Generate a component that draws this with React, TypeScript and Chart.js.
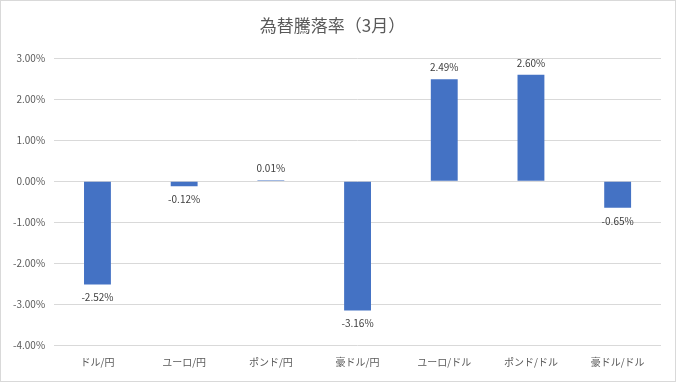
import React, { useEffect, useRef } from "react";
import { Chart, registerables } from "chart.js";

Chart.register(...registerables);

const title = "為替騰落率（3月）";
const categories = ["ドル/円", "ユーロ/円", "ポンド/円", "豪ドル/円", "ユーロ/ドル", "ポンド/ドル", "豪ドル/ドル"];
const values = [-2.52, -0.12, 0.01, -3.16, 2.49, 2.6, -0.65];
const yMin = -4;
const yMax = 3;
const yStep = 1;

const FONT = "'Noto Sans CJK JP', 'Noto Sans', sans-serif";

const labelPlugin = {
  id: "barLabels",
  afterDatasetsDraw(chart: any) {
    const ctx = chart.ctx;
    const meta = chart.getDatasetMeta(0);
    ctx.save();
    ctx.font = `10px ${FONT}`;
    ctx.fillStyle = "#404040";
    ctx.textAlign = "center";
    meta.data.forEach((bar: any, i: number) => {
      const v = values[i];
      const text = v.toFixed(2) + "%";
      if (v >= 0) {
        ctx.textBaseline = "bottom";
        ctx.fillText(text, bar.x, bar.y - 7);
      } else {
        ctx.textBaseline = "top";
        ctx.fillText(text, bar.x, bar.y + 8);
      }
    });
    ctx.restore();
  },
};

export default function App() {
  const ref = useRef<HTMLCanvasElement>(null);
  useEffect(() => {
    if (!ref.current) return;
    const chart = new Chart(ref.current, {
      type: "bar",
      data: {
        labels: categories,
        datasets: [
          {
            data: values,
            backgroundColor: "#4472C4",
            categoryPercentage: 1,
            barPercentage: 0.31,
            minBarLength: 1,
          },
        ],
      },
      options: {
        animation: false,
        responsive: false,
        maintainAspectRatio: false,
        layout: { padding: { left: 3, right: 14, top: 4, bottom: 10 } },
        plugins: {
          legend: { display: false },
          tooltip: { enabled: false },
          title: {
            display: true,
            text: title,
            color: "#595959",
            font: { family: FONT, size: 17, weight: "normal" },
            padding: { top: 10, bottom: 23 },
          },
        },
        scales: {
          x: {
            grid: { display: false },
            border: { display: false },
            ticks: { color: "#595959", font: { family: FONT, size: 10 }, padding: 3, maxRotation: 0 },
          },
          y: {
            min: yMin,
            max: yMax,
            grid: { color: "#d9d9d9", drawTicks: false },
            border: { display: false },
            ticks: {
              stepSize: yStep,
              color: "#595959",
              font: { family: FONT, size: 10 },
              padding: 9,
              callback: (v: any) => Number(v).toFixed(2) + "%",
            },
          },
        },
      },
      plugins: [labelPlugin],
    });
    return () => chart.destroy();
  }, []);
  return (
    <div style={{ position: "absolute", left: 0, top: 0, width: 676, height: 382, boxSizing: "border-box", border: "1px solid #d9d9d9", background: "#fff" }}>
      <canvas ref={ref} width={674} height={380} style={{ display: "block" }} />
    </div>
  );
}
